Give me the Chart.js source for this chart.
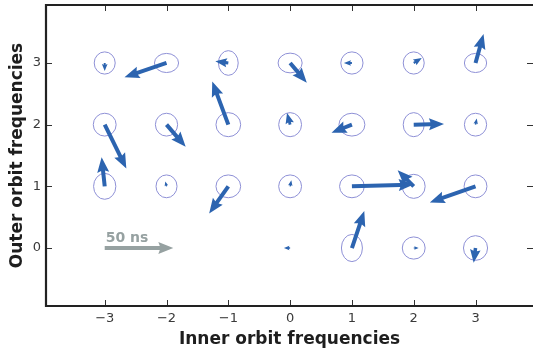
<!DOCTYPE html>
<html>
<head>
<meta charset="utf-8">
<script src="https://cdn.jsdelivr.net/npm/chart.js@4.4.1/dist/chart.umd.min.js"></script>
<style>
  html, body { margin: 0; padding: 0; background: #fff; }
  canvas { display: block; }
</style>
</head>
<body>
<canvas id="orbitChart" width="533" height="351"></canvas>
<script>
// tick labels
const xTicks = [-3, -2, -1, 0, 1, 2, 3];
const yTicks = [0, 1, 2, 3];

// grid points (inner, outer frequency)
const gridX = [-3, -2, -1, 0, 1, 2, 3,  -3, -2, -1, 0, 1, 2, 3,  -3, -2, -1, 0, 1, 2, 3,  0, 1, 2, 3];
const gridY = [ 3,  3,  3, 3, 3, 3, 3,   2,  2,  2, 2, 2, 2, 2,   1,  1,  1, 1, 1, 1, 1,  0, 0, 0, 0];

// ellipse diameters (data units)
const ellipseW = [0.34, 0.39, 0.32, 0.39, 0.36, 0.34, 0.36,
                  0.37, 0.36, 0.40, 0.37, 0.42, 0.34, 0.36,
                  0.36, 0.34, 0.40, 0.37, 0.40, 0.37, 0.37,
                  0,    0.34, 0.37, 0.39];
const ellipseH = [0.36, 0.31, 0.40, 0.32, 0.36, 0.36, 0.31,
                  0.37, 0.37, 0.39, 0.39, 0.37, 0.39, 0.37,
                  0.42, 0.37, 0.37, 0.37, 0.37, 0.39, 0.37,
                  0,    0.44, 0.36, 0.40];

// arrow components (data units)
const arrowDx = [0,    -0.68, -0.21,  0.27, -0.13, 0.13, 0.13,
                 0.35,  0.31, -0.26, -0.05, -0.33, 0.49, 0.02,
                -0.05, -0.02, -0.31,  0.02,  1.00, -0.26, -0.74,
                -0.10,  0.20,  0.08, -0.03];
const arrowDy = [-0.13, -0.23, 0.03, -0.32, 0,    0.08, 0.47,
                 -0.71, -0.36, 0.70,  0.19, -0.13, 0.01, 0.10,
                  0.47,  0.08, -0.44, 0.10,  0.03, 0.26, -0.26,
                  0,     0.60,  0,   -0.24];

// scale key
const keyPos = [-3, 0];
const keyLength = 1.11;
const keyLabel = '50 ns';

const ARROW_COLOR = '#2c64b0';
const ELLIPSE_COLOR = '#8e90d6';
const KEY_COLOR = '#96a1a1';
const AXIS_COLOR = '#222222';

function drawArrow(ctx, x0, y0, x1, y1, color) {
  const L = Math.hypot(x1 - x0, y1 - y0);
  if (L < 0.5) return;
  const ux = (x1 - x0) / L, uy = (y1 - y0) / L;
  const nx = -uy, ny = ux;
  let sw = 4, hl = 15, hal = 13.5, hw = 12;
  const minL = 17;
  if (L < minL) {
    const s = L / minL;
    sw *= s; hl *= s; hal *= s; hw *= s;
  }
  const pts = [[0, -sw / 2], [L - hal, -sw / 2], [L - hl, -hw / 2], [L, 0],
               [L - hl, hw / 2], [L - hal, sw / 2], [0, sw / 2]];
  ctx.beginPath();
  pts.forEach(([a, b], i) => {
    const px = x0 + ux * a + nx * b;
    const py = y0 + uy * a + ny * b;
    if (i === 0) ctx.moveTo(px, py); else ctx.lineTo(px, py);
  });
  ctx.closePath();
  ctx.fillStyle = color;
  ctx.fill();
}

const orbitPlugin = {
  id: 'orbitPlugin',
  afterDatasetsDraw(chart) {
    const ctx = chart.ctx;
    const xs = chart.scales.x, ys = chart.scales.y;
    ctx.save();
    // ellipses
    ctx.strokeStyle = ELLIPSE_COLOR;
    ctx.lineWidth = 1;
    for (let i = 0; i < gridX.length; i++) {
      if (!ellipseW[i]) continue;
      const cx = xs.getPixelForValue(gridX[i]);
      const cy = ys.getPixelForValue(gridY[i]);
      const rx = Math.abs(xs.getPixelForValue(gridX[i] + ellipseW[i] / 2) - cx);
      const ry = Math.abs(ys.getPixelForValue(gridY[i] + ellipseH[i] / 2) - cy);
      ctx.beginPath();
      ctx.ellipse(cx, cy, rx, ry, 0, 0, Math.PI * 2);
      ctx.stroke();
    }
    // arrows
    for (let i = 0; i < gridX.length; i++) {
      drawArrow(ctx,
        xs.getPixelForValue(gridX[i]), ys.getPixelForValue(gridY[i]),
        xs.getPixelForValue(gridX[i] + arrowDx[i]), ys.getPixelForValue(gridY[i] + arrowDy[i]),
        ARROW_COLOR);
    }
    // key arrow
    const kx = xs.getPixelForValue(keyPos[0]), ky = ys.getPixelForValue(keyPos[1]);
    drawArrow(ctx, kx, ky, xs.getPixelForValue(keyPos[0] + keyLength), ky, KEY_COLOR);
    ctx.fillStyle = KEY_COLOR;
    ctx.font = 'bold 14px "DejaVu Sans"';
    ctx.textAlign = 'left';
    ctx.textBaseline = 'alphabetic';
    ctx.fillText(keyLabel, kx + 1, ky - 6);
    ctx.restore();
  },
  afterDraw(chart) {
    const ctx = chart.ctx;
    const {left, right, top, bottom} = chart.chartArea;
    const xs = chart.scales.x, ys = chart.scales.y;
    ctx.save();
    // inward ticks
    ctx.strokeStyle = '#333';
    ctx.lineWidth = 1;
    ctx.beginPath();
    xTicks.forEach(v => {
      const px = Math.round(xs.getPixelForValue(v)) + 0.5;
      ctx.moveTo(px, bottom); ctx.lineTo(px, bottom - 6);
      ctx.moveTo(px, top); ctx.lineTo(px, top + 6);
    });
    yTicks.forEach(v => {
      const py = Math.round(ys.getPixelForValue(v)) + 0.5;
      ctx.moveTo(left, py); ctx.lineTo(left + 6, py);
      ctx.moveTo(right, py); ctx.lineTo(right - 6, py);
    });
    ctx.stroke();
    // spines
    ctx.strokeStyle = AXIS_COLOR;
    ctx.lineWidth = 2.2;
    ctx.beginPath();
    ctx.moveTo(right + 2, top);
    ctx.lineTo(left, top);
    ctx.lineTo(left, bottom);
    ctx.lineTo(right + 2, bottom);
    ctx.stroke();
    ctx.restore();
  }
};

const tickFont = { family: '"DejaVu Sans"', size: 13 };
const titleFont = { family: '"DejaVu Sans"', size: 17, weight: 'bold', lineHeight: 1.2 };

new Chart(document.getElementById('orbitChart').getContext('2d'), {
  type: 'scatter',
  data: {
    datasets: [{
      data: gridX.map((x, i) => ({ x: x, y: gridY[i] })),
      pointRadius: 0,
      pointHoverRadius: 0
    }]
  },
  options: {
    responsive: false,
    animation: false,
    devicePixelRatio: 1,
    events: [],
    layout: { padding: { top: 5, right: 0, left: 0, bottom: 0 } },
    plugins: { legend: { display: false }, tooltip: { enabled: false } },
    scales: {
      x: {
        type: 'linear',
        min: -3.95,
        max: 3.93,
        afterBuildTicks: (scale) => { scale.ticks = xTicks.map(v => ({ value: v })); },
        afterFit: (scale) => { scale.height = 45; scale.paddingLeft = 0; scale.paddingRight = 0; },
        grid: { display: false, drawTicks: false },
        border: { display: false },
        ticks: {
          padding: 5,
          color: '#3a3a3a',
          font: tickFont,
          callback: (v) => String(v).replace('-', '\u2212')
        },
        title: {
          display: true,
          text: 'Inner orbit frequencies',
          color: '#1e1e1e',
          font: titleFont,
          padding: { top: 0, bottom: 1 }
        }
      },
      y: {
        type: 'linear',
        min: -0.94,
        max: 3.94,
        afterBuildTicks: (scale) => { scale.ticks = yTicks.map(v => ({ value: v })); },
        afterFit: (scale) => { scale.width = 46; scale.paddingTop = 0; scale.paddingBottom = 0; },
        grid: { display: false, drawTicks: false },
        border: { display: false },
        ticks: {
          padding: 5,
          color: '#3a3a3a',
          font: tickFont,
          callback: (v) => String(v).replace('-', '\u2212')
        },
        title: {
          display: true,
          text: 'Outer orbit frequencies',
          color: '#1e1e1e',
          font: titleFont,
          padding: { top: 7, bottom: 0 }
        }
      }
    }
  },
  plugins: [orbitPlugin]
});
</script>
</body>
</html>
